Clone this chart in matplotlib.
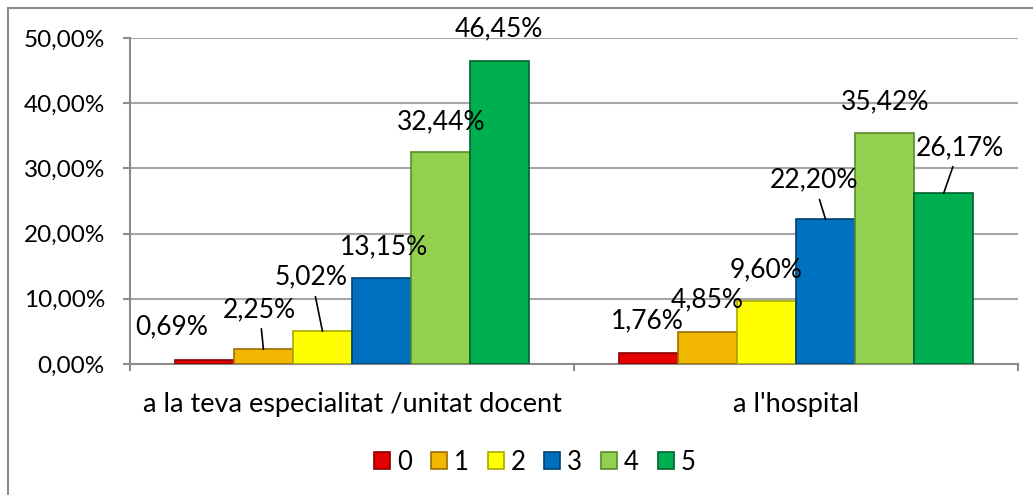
import numpy as np
import matplotlib
matplotlib.use("Agg")
import matplotlib.pyplot as plt
from matplotlib.patches import Rectangle

categories = ["a la teva especialitat /unitat docent", "a l'hospital"]
series = ["0", "1", "2", "3", "4", "5"]
values = {
    "0": [0.69, 1.76],
    "1": [2.25, 4.85],
    "2": [5.02, 9.60],
    "3": [13.15, 22.20],
    "4": [32.44, 35.42],
    "5": [46.45, 26.17],
}
colors = ["#E30000", "#F2B700", "#FFFF00", "#0070C0", "#92D050", "#00B050"]
edges = ["#8A0000", "#9A7000", "#A8A800", "#00406E", "#5A8A2E", "#00632E"]

# label offsets in pixels (dx, dy) and whether a leader line is drawn
label_off = {
    "0": [(-33, 33, False), (-1, 32, False)],
    "1": [(-4, 40, True), (0, 33, False)],
    "2": [(-11, 54, True), (0, 32, False)],
    "3": [(2, 31, False), (-12, 39, True)],
    "4": [(1, 31, False), (1, 31, False)],
    "5": [(-1, 32, False), (16, 46, True)],
}

plt.rcParams["font.family"] = ["Lato", "DejaVu Sans"]

fig = plt.figure(figsize=(10.33, 4.95), dpi=100)
ax = fig.add_axes([130 / 1033, 1 - 364 / 495, 888 / 1033, 326 / 495])

x = np.arange(len(categories))
w = 0.133
for i, s in enumerate(series):
    pos = x + (i - 2.5) * w
    bars = ax.bar(pos, values[s], width=w, color=colors[i], edgecolor=edges[i],
                  linewidth=1.2, label=s, zorder=3)
    for j, b in enumerate(bars):
        dx, dy, lead = label_off[s][j]
        txt = f"{values[s][j]:.2f}%".replace(".", ",")
        ax.annotate(txt, xy=(b.get_x() + b.get_width() / 2, b.get_height()),
                    xytext=(dx, dy), textcoords="offset pixels",
                    ha="center", va="center", fontsize=19, zorder=5,
                    arrowprops=dict(arrowstyle="-", color="black", lw=1.2,
                                    shrinkA=3, shrinkB=0) if lead else None)

ax.set_xlim(-0.5, 1.5)
ax.set_ylim(0, 50)
ax.set_yticks(np.arange(0, 51, 10))
ax.set_yticklabels([f"{v:.2f}%".replace(".", ",") for v in np.arange(0, 51, 10)])
ax.set_xticks(x)
ax.set_xticklabels(categories, fontsize=19.5)
ax.set_xticks([-0.5, 0.5, 1.5], minor=True)
ax.tick_params(axis="x", which="major", length=0, pad=20)
ax.tick_params(axis="x", which="minor", length=5, color="#8C8C8C", width=1.5)
ax.tick_params(axis="y", length=5, color="#8C8C8C", width=1.5, labelsize=17.5, pad=13)
ax.yaxis.grid(True, color="#A6A6A6", lw=1.5, zorder=0)
for sp in ["top", "right"]:
    ax.spines[sp].set_visible(False)
for sp in ["left", "bottom"]:
    ax.spines[sp].set_color("#8C8C8C")
    ax.spines[sp].set_linewidth(1.5)

fig.legend(loc="center", bbox_to_anchor=(535 / 1033, 1 - 462 / 495), ncol=6,
           frameon=False, fontsize=18.5, handlelength=0.62, handleheight=0.62,
           handletextpad=0.27, columnspacing=0.74)

fig.patches.append(Rectangle((8 / 1033, -0.1), 1.2, 0.1 + 1 - 8 / 495,
                             transform=fig.transFigure, fill=False,
                             edgecolor="#8C8C8C", lw=1.5))

fig.savefig("out.png", dpi=100)
